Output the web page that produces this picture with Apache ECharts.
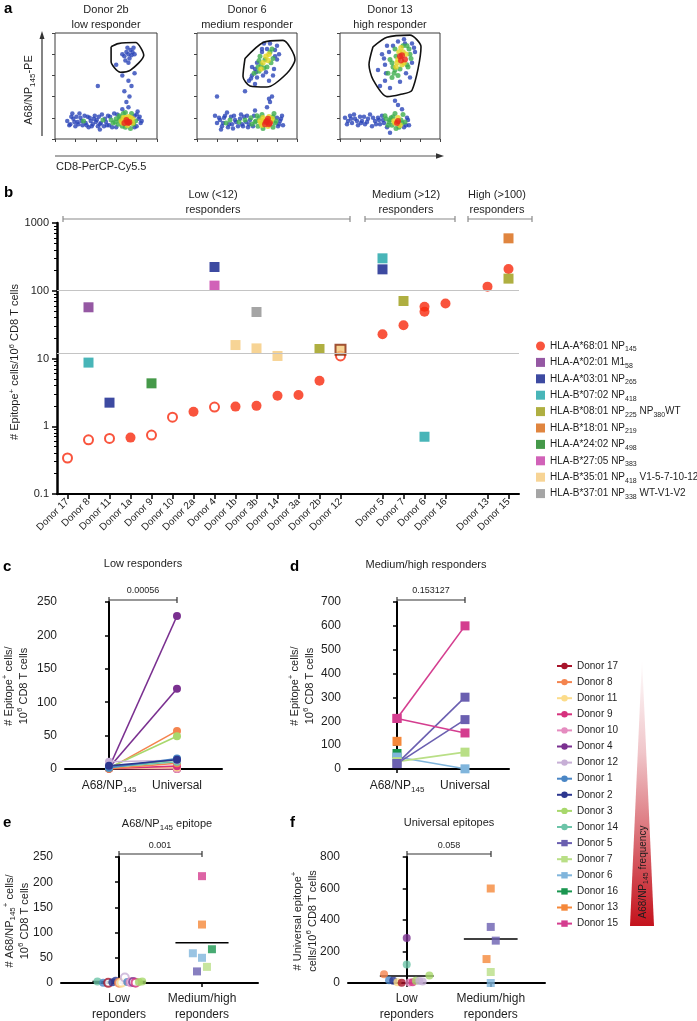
<!DOCTYPE html>
<html><head><meta charset="utf-8">
<script src="https://cdn.jsdelivr.net/npm/echarts@6/dist/echarts.min.js"></script>
<style>html,body{margin:0;padding:0;background:#fff}#c{width:697px;height:1021px}</style>
</head><body><div id="c"></div>
<script>
// ---------------- DATA ----------------
// Panel a: flow cytometry dots [x%, y%, densityLevel]
const flowTitles = ['Donor 2b\nlow responder', 'Donor 6\nmedium responder', 'Donor 13\nhigh responder'];
const flow1 = [[12,17,0],[15,14,0],[18,19,0],[20,12,0],[22,16,0],[25,20,0],[27,13,0],[28,17,1],[30,15,0],[32,21,0],[33,11,0],[35,17,0],[37,14,0],[38,19,0],[40,16,0],[42,12,0],[43,21,0],[45,15,0],[47,18,1],[48,12,0],[50,16,0],[52,22,0],[53,13,0],[55,18,1],[57,15,1],[58,24,0],[60,11,0],[60,19,1],[62,14,1],[63,22,1],[65,17,2],[66,12,1],[67,20,2],[68,15,3],[69,25,1],[70,18,3],[71,13,2],[72,21,2],[73,16,3],[74,10,1],[75,24,1],[76,19,2],[77,14,1],[78,22,0],[79,17,1],[80,12,0],[81,26,0],[82,19,0],[84,15,0],[66,28,0],[72,30,0],[24,24,0],[16,21,0],[44,9,0],[70,35,0],[73,40,0],[68,45,0],[75,50,0],[72,55,0],[66,60,0],[78,62,0],[42,50,0],[60,70,0],[68,78,0],[70,82,0],[72,80,0],[74,84,0],[75,79,0],[77,86,0],[71,86,0],[73,76,0],[76,82,0],[69,74,0],[78,80,0],[72,72,0],[66,80,0],
  [14,13,0],[17,24,0],[19,16,0],[21,21,0],[23,14,0],[26,17,0],[29,22,0],[31,13,0],[34,20,0],[36,12,0],[39,22,0],[41,18,0],[44,14,0],[46,23,0],[49,19,0],[51,13,0],[54,21,0],[56,11,0],[59,16,1],[61,23,0],[64,20,1],[67,24,1],[69,11,1],[71,16,3],[74,20,2],[76,15,2],[78,11,0],[80,23,0],[83,21,0],[85,17,0],[69,20,2],[72,15,3],[66,15,2],[63,18,1]];
const flow2 = [[20,15,0],[23,18,0],[25,12,0],[27,20,0],[29,15,1],[31,11,0],[33,18,1],[35,14,0],[37,22,0],[39,16,0],[41,12,0],[43,19,0],[45,14,0],[47,21,0],[49,16,0],[51,11,0],[53,18,0],[55,14,1],[57,22,0],[59,17,1],[61,12,1],[62,20,1],[64,15,2],[65,23,1],[66,10,1],[67,18,2],[68,14,3],[70,17,3],[71,12,2],[72,21,2],[73,15,3],[75,19,2],[76,11,1],[77,24,1],[78,15,1],[80,20,0],[81,12,0],[83,17,0],[85,22,0],[18,22,0],[30,25,0],[58,27,0],[24,9,0],[86,13,0],[70,30,0],[73,35,0],[75,40,0],[72,38,0],[48,45,0],[20,40,0],[52,55,0],[55,60,0],[58,52,0],[60,58,0],[62,64,1],[64,70,1],[66,60,0],[68,75,1],[70,68,1],[72,80,2],[74,72,1],[75,85,1],[78,78,0],[80,88,0],[70,85,0],[65,82,0],[60,72,0],[58,66,0],[82,80,0],[77,66,0],[55,68,0],[67,90,0],[73,90,0],[63,78,1],[69,63,0],[76,60,0],[54,57,0],[72,55,0],
  [22,20,0],[26,15,0],[28,22,0],[32,14,0],[34,21,0],[36,10,0],[38,18,0],[42,16,1],[44,23,0],[46,12,0],[48,18,1],[50,22,0],[52,14,0],[54,20,1],[56,12,0],[58,16,1],[60,22,1],[63,17,2],[65,13,2],[66,20,2],[69,16,3],[71,19,3],[72,14,3],[74,17,2],[76,21,1],[79,17,1],[82,14,0],[84,19,0],[57,62,1],[61,68,1],[64,66,2],[66,72,2],[67,67,1],[69,78,2],[71,74,2],[73,82,1],[76,76,1],[62,74,1],[59,63,0],[65,85,0],[78,84,0],[80,75,0]];
const flow3 = [[5,20,0],[8,17,0],[10,22,0],[12,15,0],[15,19,0],[18,13,0],[20,21,0],[22,17,0],[25,14,0],[28,19,0],[30,23,0],[32,12,0],[35,17,0],[38,20,0],[40,14,0],[43,18,0],[45,22,1],[47,11,0],[49,16,1],[51,20,1],[52,13,1],[54,17,2],[55,24,1],[56,10,1],[57,15,3],[58,20,2],[60,13,2],[61,18,1],[63,23,1],[64,11,0],[65,16,1],[67,20,0],[69,13,0],[62,28,0],[50,6,0],[58,32,0],[55,36,0],[40,50,0],[45,55,0],[50,48,0],[48,62,1],[52,58,1],[55,65,1],[58,60,1],[57,72,2],[60,78,3],[62,70,2],[63,82,2],[65,75,3],[67,88,1],[68,68,1],[70,80,1],[72,72,0],[55,85,1],[50,75,1],[45,70,0],[42,80,0],[47,88,0],[58,92,0],[64,94,0],[72,90,0],[75,82,0],[53,68,1],[61,86,2],[66,62,0],[38,65,0],[60,54,0],[70,58,0],[49,82,0],
  [7,14,0],[11,19,0],[14,23,0],[17,17,0],[21,15,0],[24,21,0],[27,16,0],[33,20,0],[36,14,0],[39,18,0],[42,22,0],[44,15,0],[46,19,1],[48,13,1],[50,18,1],[53,21,1],[55,15,2],[58,17,3],[59,11,1],[62,15,1],[66,13,0],[68,18,0],[54,62,1],[56,68,2],[58,75,2],[59,82,2],[61,74,3],[62,79,3],[63,88,1],[64,72,2],[66,80,2],[67,70,1],[69,85,1],[71,76,1],[56,78,1],[52,72,1],[60,66,1],[65,90,0],[53,88,0],[46,62,0],[44,76,0],[74,86,0]];
const gate1 = [[55,87],[62,90],[79,91],[87,79],[74,65],[64,63],[55,73]];
const gate2 = [[48,76],[66,91],[86,93],[98,75],[90,62],[70,49],[53,50],[46,59]];
const gate3 = [[33,87],[47,96],[70,98],[81,87],[72,46],[60,42],[47,40],[33,56],[29,70]];

// Panel b
const bCats = ['Donor 17','Donor 8','Donor 11','Donor 1a','Donor 9','Donor 10','Donor 2a','Donor 4','Donor 1b','Donor 3b','Donor 14','Donor 3a','Donor 2b','Donor 12',' ','Donor 5','Donor 7','Donor 6','Donor 16','  ','Donor 13','Donor 15'];
const bTicks = [0.1, 1, 10, 100, 1000];
const bThresholds = [100, 12];
const a68Filled = [['Donor 1a',0.68],['Donor 2a',1.64],['Donor 1b',1.95],['Donor 3b',2.0],['Donor 14',2.82],['Donor 3a',2.9],['Donor 2b',4.7],['Donor 5',22.8],['Donor 7',30.9],['Donor 6',58],['Donor 6',49],['Donor 16',65],['Donor 13',115],['Donor 15',209]];
const a68Open = [['Donor 17',0.34],['Donor 8',0.63],['Donor 11',0.66],['Donor 9',0.74],['Donor 10',1.36],['Donor 4',1.92],['Donor 12',10.9]];
const epA0201 = [['Donor 8',57]];
const epA0301 = [['Donor 11',2.23],['Donor 4',224],['Donor 5',207]];
const epB0702 = [['Donor 8',8.7],['Donor 5',301],['Donor 6',0.70]];
const epB0801 = [['Donor 2b',13.8],['Donor 7',70.6],['Donor 15',151]];
const epB1801 = [['Donor 15',594]];
const epA2402 = [['Donor 9',4.3]];
const epB2705 = [['Donor 4',119]];
const epB3501 = [['Donor 1b',15.8],['Donor 3b',14.1],['Donor 14',10.9],['Donor 12',13.5]];
const epB3701 = [['Donor 3b',48.6]];
const epLabels = ['HLA-A*68:01 NP_{145}','HLA-A*02:01 M1_{58}','HLA-A*03:01 NP_{265}','HLA-B*07:02 NP_{418}','HLA-B*08:01 NP_{225} NP_{380}WT','HLA-B*18:01 NP_{219}','HLA-A*24:02 NP_{498}','HLA-B*27:05 NP_{383}','HLA-B*35:01 NP_{418} V1-5-7-10-12','HLA-B*37:01 NP_{338} WT-V1-V2'];

// Panels c-f: donors
const donorNames = ['Donor 17','Donor 8','Donor 11','Donor 9','Donor 10','Donor 4','Donor 12','Donor 1','Donor 2','Donor 3','Donor 14','Donor 5','Donor 7','Donor 6','Donor 16','Donor 13','Donor 15'];
const cCats = ['A68/NP_{145}', 'Universal'];
const cPairs = [['Donor 17',0.34,0],['Donor 10',1.36,0],['Donor 11',0.66,2.2],['Donor 9',0.74,4.3],['Donor 8',0.63,8.7],['Donor 8',0.63,57],['Donor 4',1.92,229],['Donor 4',1.92,120],['Donor 3',2.0,49],['Donor 3',2.0,14.1],['Donor 14',2.82,10.9],['Donor 12',10.9,13],['Donor 1',1.95,15.8],['Donor 2',4.7,13.8]];
const dPairs = [['Donor 16',65,null],['Donor 13',116,null],['Donor 6',50,0.7],['Donor 7',30.9,70.6],['Donor 5',22.8,301],['Donor 5',22.8,207],['Donor 15',212,600],['Donor 15',212,151]];
const pValues = ['0.00056','0.153127','0.001','0.058'];
const efCats = ['Low\nreponders','Medium/high\nreponders'];
// [donor, value, jitter offset, open]
const eLow = [['Donor 14',2.8,-0.26,0],['Donor 1',0.7,-0.19,0],['Donor 17',0.3,-0.13,1],['Donor 2',1.6,-0.08,0],['Donor 2',4.7,-0.04,0],['Donor 8',0.6,0.0,1],['Donor 11',0.7,0.03,1],['Donor 12',10.9,0.07,1],['Donor 1',1.9,0.1,0],['Donor 10',1.4,0.14,1],['Donor 4',1.9,0.17,1],['Donor 9',0.7,0.2,1],['Donor 3',2.0,0.24,0],['Donor 3',2.9,0.28,0]];
const eMed = [['Donor 15',212,0.0],['Donor 13',116,0.0],['Donor 6',59,-0.11],['Donor 6',50,0.0],['Donor 16',67,0.12],['Donor 5',23,-0.06],['Donor 7',32,0.06]];
const eMeans = [3, 80];
const fLow = [['Donor 8',56,-0.27],['Donor 1',18,-0.21],['Donor 2',15,-0.16],['Donor 11',5,-0.11],['Donor 17',2,-0.06],['Donor 4',285,0.0],['Donor 14',118,0.0],['Donor 10',3,0.03],['Donor 9',4,0.07],['Donor 3',14,0.11],['Donor 12',13,0.15],['Donor 12',10,0.19],['Donor 3',47,0.27]];
const fMed = [['Donor 13',600,0.0],['Donor 5',356,0.0],['Donor 5',269,0.06],['Donor 13',152,-0.05],['Donor 7',70,0.0],['Donor 6',0,0.0]];
const fMeans = [44, 280];

// ---------------- STYLE ----------------
const FONT = "'Liberation Sans', Arial, Helvetica, sans-serif";
const INK = '#1e1e1e';
const densCols = ['#2b45b8', '#3fae4e', '#e3d524', '#e8281c'];
const densSize = [4.5, 5, 5.5, 6];
const epColors = ['#f8290c','#7a2e8c','#0d1d8a','#1aa3a6','#9b9b12','#d8660f','#16801c','#c63ba6','#f5c97a','#8f8f8f'];
const donorColors = {'Donor 17':'#a8142b','Donor 8':'#f4844f','Donor 11':'#fcdc8a','Donor 9':'#d6317d','Donor 10':'#e58cc0','Donor 4':'#7a3090','Donor 12':'#c7afd6','Donor 1':'#4a86c5','Donor 2':'#2c3790','Donor 3':'#a8d86c','Donor 14':'#6cc4a8','Donor 5':'#6a5fb0','Donor 7':'#b9df86','Donor 6':'#80b5dc','Donor 16':'#1a9650','Donor 13':'#f5883a','Donor 15':'#d43d8f'};
const squareDonors = ['Donor 5','Donor 7','Donor 6','Donor 16','Donor 13','Donor 15'];

function richStyles(sizes){
  const r = {};
  sizes.forEach(sz => {
    const s2 = Math.round(sz*0.7);
    r['t'+sz] = {fontSize:sz, lineHeight:sz+4, fontFamily:FONT, color:INK};
    r['t'+sz+'s'] = {fontSize:s2, lineHeight:s2+1, fontFamily:FONT, color:INK, verticalAlign:'bottom'};
    r['t'+sz+'p'] = {fontSize:s2, lineHeight:s2+1, fontFamily:FONT, color:INK, verticalAlign:'top'};
  });
  return r;
}
const RICH = richStyles([8,9,10,11,12]);
function seg(n, str){ return str.split('\n').map(p => p ? '{'+n+'|'+p+'}' : '').join('\n'); }
function rt(s, sz){
  const n = 't'+sz; let out = '', last = 0, m; const re = /([_^])\{([^}]*)\}/g;
  while ((m = re.exec(s))) {
    if (m.index > last) out += seg(n, s.slice(last, m.index));
    out += '{'+n+(m[1]==='_'?'s':'p')+'|'+m[2]+'}';
    last = re.lastIndex;
  }
  if (last < s.length) out += seg(n, s.slice(last));
  return out;
}
function gt(x, y, s, sz, o){
  o = o || {};
  return {type:'text', x:x, y:y, rotation:o.rot||0, silent:true,
    style:{text:rt(s, sz), rich:RICH, align:o.align||'center', verticalAlign:o.va||'middle', fontFamily:FONT, fontSize:sz, fill:INK}};
}
function letter(ch, x, y){ return {type:'text', x:x, y:y, silent:true, style:{text:ch, fontSize:15, fontWeight:'bold', fontFamily:FONT, fill:'#000', align:'left', verticalAlign:'top'}}; }
function ln(x1,y1,x2,y2,c,w){ return {type:'line', silent:true, shape:{x1:x1,y1:y1,x2:x2,y2:y2}, style:{stroke:c||'#333', lineWidth:w||1.2}}; }
function bracket(x1,x2,y,c){ return [ln(x1,y,x2,y,c), ln(x1,y-3,x1,y+3,c), ln(x2,y-3,x2,y+3,c)]; }

// ---------------- OPTION ----------------
const grids = [
  {left:55, top:33, width:102, height:106},
  {left:197, top:33, width:100, height:106},
  {left:340, top:33, width:100, height:106},
  {left:57, top:223, width:462, height:271},
  {left:65, top:602, width:157, height:167},
  {left:349, top:602, width:160, height:167},
  {left:61, top:857, width:197, height:129},
  {left:348, top:857, width:197, height:129}
];
grids.forEach((g,i) => { if (i < 3) { g.show = true; g.borderColor = '#3a3a3a'; g.borderWidth = 1; } });

const xAxes = [], yAxes = [], series = [];
const axLine = {show:true, lineStyle:{color:'#000', width:2}};
const axTick = {show:true, length:4, lineStyle:{color:'#000', width:1.5}};
const axLab = {fontSize:12, color:INK, fontFamily:FONT};

// flows
[flow1, flow2, flow3].forEach((pts, k) => {
  xAxes.push({gridIndex:k, type:'value', min:0, max:100, interval:20, axisLine:{show:false}, axisTick:{show:true, length:3, lineStyle:{color:'#444'}}, axisLabel:{show:false}, splitLine:{show:false}});
  yAxes.push({gridIndex:k, type:'value', min:0, max:100, interval:20, axisLine:{show:false}, axisTick:{show:true, length:3, lineStyle:{color:'#444'}}, axisLabel:{show:false}, splitLine:{show:false}});
  const sorted = pts.slice().sort((a,b) => a[2]-b[2]);
  series.push({type:'scatter', name:'flow'+k, xAxisIndex:k, yAxisIndex:k, silent:true,
    data: sorted.map(p => ({value:[p[0],p[1]], itemStyle:{color:densCols[p[2]]}, symbolSize:densSize[p[2]]}))});
  const gate = [gate1, gate2, gate3][k];
  series.push({type:'line', name:'gate'+k, xAxisIndex:k, yAxisIndex:k, smooth:0.25, symbol:'none', silent:true,
    lineStyle:{color:'#111', width:1.6}, data: gate.concat([gate[0]])});
});

// b
xAxes.push({gridIndex:3, type:'category', data:bCats, boundaryGap:true,
  axisLine:{show:true, lineStyle:{color:'#000', width:2}},
  axisTick:{show:true, alignWithLabel:true, length:5, interval:(i,v) => v.trim() !== '', lineStyle:{color:'#000', width:1.5}},
  axisLabel:{rotate:45, interval:0, fontSize:10, color:INK, fontFamily:FONT, margin:6, formatter:v => v.trim()}});
yAxes.push({gridIndex:3, type:'log', logBase:10, min:bTicks[0], max:bTicks[bTicks.length-1],
  axisLine:{show:true, lineStyle:{color:'#000', width:2.5}},
  axisTick:{show:true, length:5, lineStyle:{color:'#000', width:1.5}},
  minorTick:{show:true, splitNumber:9, length:3, lineStyle:{color:'#000', width:1}},
  axisLabel:{fontSize:11, color:INK, fontFamily:FONT, formatter:v => String(+(+v).toPrecision(4))},
  splitLine:{show:false}});
series.push({type:'scatter', name:'A68', xAxisIndex:3, yAxisIndex:3, symbol:'circle', symbolSize:10,
  itemStyle:{color:epColors[0]}, data:a68Filled,
  markLine:{silent:true, symbol:'none', label:{show:false}, lineStyle:{color:'#c4c4c4', width:1, type:'solid'},
    data: bThresholds.map(t => ({yAxis:t}))}});
series.push({type:'scatter', name:'A68open', xAxisIndex:3, yAxisIndex:3, symbol:'emptyCircle', symbolSize:9,
  itemStyle:{color:epColors[0], borderColor:epColors[0], borderWidth:1.6}, data:a68Open});
const epSeries = [epA0201, epA0301, epB0702, epB0801, epB1801, epA2402, epB2705, epB3501, epB3701];
epSeries.forEach((d, i) => {
  series.push({type:'scatter', name:'ep'+(i+1), xAxisIndex:3, yAxisIndex:3, symbol:'rect', symbolSize:10,
    itemStyle:{color:epColors[i+1]},
    data: d.map(p => (i === 7 && p[0] === 'Donor 12') ? {value:p, itemStyle:{borderColor:'#8a2a0c', borderWidth:2}} : p)});
});

// c & d
function pairAxes(gi, min, max, ymax, yint){
  xAxes.push({gridIndex:gi, type:'value', min:min, max:max,
    axisLine:axLine, axisTick:Object.assign({customValues:[0,1]}, axTick),
    axisLabel:{customValues:[0,1], margin:9, rich:RICH, fontFamily:FONT, formatter:v => rt(cCats[Math.round(v)] || '', 12)},
    splitLine:{show:false}});
  yAxes.push({gridIndex:gi, type:'value', min:0, max:ymax, interval:yint, axisLine:axLine, axisTick:axTick, axisLabel:axLab, splitLine:{show:false}});
}
pairAxes(4, -0.647, 1.662, 250, 50);
pairAxes(5, -0.706, 1.647, 700, 100);
function pairSeries(pairs, gi){
  pairs.forEach(p => {
    const isSq = squareDonors.indexOf(p[0]) >= 0;
    const data = p[2] === null ? [[0, p[1]]] : [[0, p[1]], [1, p[2]]];
    series.push({type:'line', name:p[0], xAxisIndex:gi, yAxisIndex:gi, symbol:isSq ? 'rect' : 'circle', symbolSize:isSq ? 9 : 8,
      showSymbol:true, itemStyle:{color:donorColors[p[0]]}, lineStyle:{color:donorColors[p[0]], width:1.6}, data:data});
  });
}
pairSeries(cPairs, 4);
pairSeries(dPairs, 5);

// e & f
function groupAxes(gi, min, max, ymax, yint){
  xAxes.push({gridIndex:gi, type:'value', min:min, max:max,
    axisLine:axLine, axisTick:Object.assign({customValues:[0,1]}, axTick),
    axisLabel:{customValues:[0,1], margin:8, rich:RICH, fontFamily:FONT, formatter:v => rt(efCats[Math.round(v)] || '', 12)},
    splitLine:{show:false}});
  yAxes.push({gridIndex:gi, type:'value', min:0, max:ymax, interval:yint, axisLine:axLine, axisTick:axTick, axisLabel:axLab, splitLine:{show:false}});
}
groupAxes(6, -0.699, 1.675, 250, 50);
groupAxes(7, -0.699, 1.646, 800, 200);
function meanSeries(gi, means){
  means.forEach((m, k) => {
    series.push({type:'line', name:'mean'+gi+k, xAxisIndex:gi, yAxisIndex:gi, symbol:'none', silent:true, z:1,
      lineStyle:{color:'#000', width:1.5}, data:[[k-0.32, m],[k+0.32, m]]});
  });
}
meanSeries(6, eMeans);
meanSeries(7, fMeans);
series.push({type:'scatter', name:'eLow', xAxisIndex:6, yAxisIndex:6, symbolSize:8, z:3,
  data: eLow.map(p => ({value:[p[2], p[1]], symbol:p[3] ? 'emptyCircle' : 'circle',
    itemStyle:{color:donorColors[p[0]], borderColor:donorColors[p[0]], borderWidth:p[3] ? 1.6 : 0}}))});
series.push({type:'scatter', name:'eMed', xAxisIndex:6, yAxisIndex:6, symbol:'rect', symbolSize:8, z:3,
  data: eMed.map(p => ({value:[1 + p[2], p[1]], itemStyle:{color:donorColors[p[0]]}}))});
series.push({type:'scatter', name:'fLow', xAxisIndex:7, yAxisIndex:7, symbol:'circle', symbolSize:8, z:3,
  data: fLow.map(p => ({value:[p[2], p[1]], itemStyle:{color:donorColors[p[0]]}}))});
series.push({type:'scatter', name:'fMed', xAxisIndex:7, yAxisIndex:7, symbol:'rect', symbolSize:8, z:3,
  data: fMed.map(p => ({value:[1 + p[2], p[1]], itemStyle:{color:donorColors[p[0]]}}))});

// legends
const epKeys = ['A68','ep1','ep2','ep3','ep4','ep5','ep6','ep7','ep8','ep9'];
const legends = [
  {id:'lb', orient:'vertical', left:536, top:341, padding:0, itemWidth:9, itemHeight:9, itemGap:4.4, selectedMode:false,
   data:epKeys, formatter:name => rt(epLabels[epKeys.indexOf(name)], 10), textStyle:{rich:RICH, fontFamily:FONT, fontSize:10, color:INK}},
  {id:'ld', orient:'vertical', left:556, top:661, padding:0, itemWidth:15, itemHeight:8, itemGap:6.1, selectedMode:false,
   data:donorNames, formatter:name => rt(name, 10), textStyle:{rich:RICH, fontFamily:FONT, fontSize:10, color:INK}}
];

// decorations
const PI2 = Math.PI/2;
let g = [];
g.push(letter('a', 4, 1));
[106, 247, 390].forEach((cx, k) => g.push(gt(cx, 17, flowTitles[k], 11)));
g.push(gt(29, 90, 'A68/NP_{145}-PE', 11, {rot:PI2}));
g.push(ln(42, 136, 42, 38, '#333', 1.2));
g.push({type:'polygon', silent:true, shape:{points:[[42,31],[39.5,39],[44.5,39]]}, style:{fill:'#333'}});
g.push(ln(55, 156, 437, 156, '#555', 1.2));
g.push({type:'polygon', silent:true, shape:{points:[[444,156],[436,153.3],[436,158.7]]}, style:{fill:'#333'}});
g.push(gt(56, 167, 'CD8-PerCP-Cy5.5', 11, {align:'left'}));

g.push(letter('b', 4, 185));
g.push(gt(213, 202, 'Low (<12)\nresponders', 11));
g.push(gt(406, 202, 'Medium (>12)\nresponders', 11));
g.push(gt(497, 202, 'High (>100)\nresponders', 11));
g = g.concat(bracket(63, 350, 219, '#8a8a8a'), bracket(365, 455, 219, '#8a8a8a'), bracket(468, 532, 219, '#8a8a8a'));
g.push(gt(15, 362, '# Epitope^{+} cells/10^{6} CD8 T cells', 11, {rot:PI2}));

g.push(letter('c', 3, 559));
g.push(gt(143, 564, 'Low responders', 11));
g.push(gt(143, 591, pValues[0], 9));
g = g.concat(bracket(109, 177, 600));
g.push(gt(16, 686, '# Epitope^{+} cells/\n10^{6} CD8 T cells', 11, {rot:PI2}));

g.push(letter('d', 290, 559));
g.push(gt(426, 565, 'Medium/high responders', 11));
g.push(gt(431, 591, pValues[1], 9));
g = g.concat(bracket(397, 465, 600));
g.push(gt(302, 686, '# Epitope^{+} cells/\n10^{6} CD8 T cells', 11, {rot:PI2}));

g.push(letter('e', 3, 815));
g.push(gt(167, 824, 'A68/NP_{145} epitope', 11));
g.push(gt(160, 846, pValues[2], 9));
g = g.concat(bracket(119, 202, 854));
g.push(gt(17, 921, '# A68/NP_{145}^{+} cells/\n10^{6} CD8 T cells', 11, {rot:PI2}));

g.push(letter('f', 290, 815));
g.push(gt(449, 823, 'Universal epitopes', 11));
g.push(gt(449, 846, pValues[3], 9));
g = g.concat(bracket(407, 491, 854));
g.push(gt(305, 921, '# Universal epitope^{+}\ncells/10^{6} CD8 T cells', 11, {rot:PI2}));

g.push({type:'polygon', silent:true, shape:{points:[[642,658],[654,926],[630,926]]},
  style:{fill:{type:'linear', x:0, y:0, x2:0, y2:1, colorStops:[{offset:0, color:'#ffffff'},{offset:0.35, color:'#f0c6ca'},{offset:1, color:'#c4121c'}]}}});
g.push(gt(643, 872, 'A68/NP_{145} frequency', 10, {rot:PI2}));

const option = {
  animation:false,
  backgroundColor:'#ffffff',
  textStyle:{fontFamily:FONT},
  grid:grids, xAxis:xAxes, yAxis:yAxes, series:series, legend:legends, graphic:g
};
const chart = echarts.init(document.getElementById('c'), null, {renderer:'canvas'});
chart.setOption(option);
</script></body></html>
